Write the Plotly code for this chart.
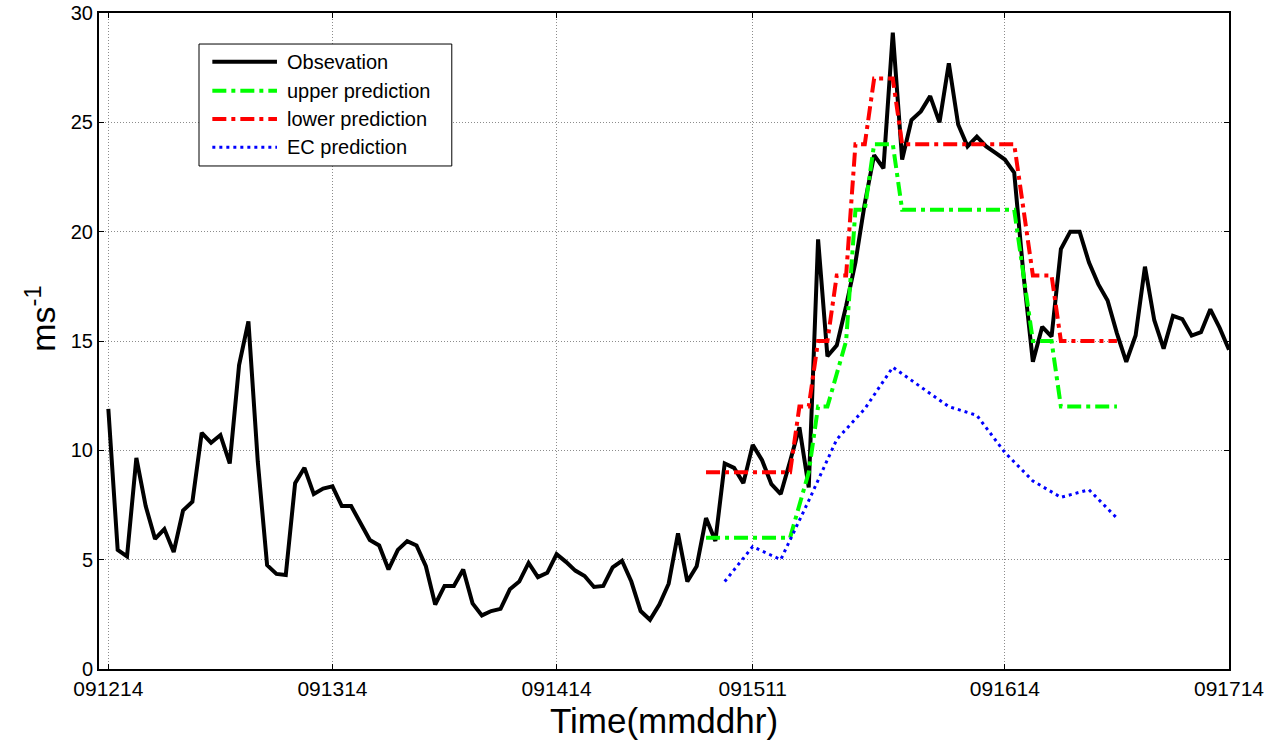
import plotly.graph_objects as go

# Hours since 12 Sep 14h (0 = 091214 ... 120 = 091714)
obs_hours = list(range(0, 121))
observation = [
    11.9, 5.45, 5.15, 9.65, 7.45, 5.95, 6.4, 5.35, 7.25, 7.65,
    10.8, 10.35, 10.7, 9.4, 13.9, 15.9, 9.5, 4.75, 4.35, 4.3,
    8.5, 9.2, 8.0, 8.25, 8.35, 7.45, 7.45, 6.65, 5.9, 5.65,
    4.55, 5.45, 5.85, 5.65, 4.7, 2.95, 3.8, 3.8, 4.55, 3.0,
    2.45, 2.65, 2.75, 3.65, 4.0, 4.85, 4.2, 4.4, 5.25, 4.9,
    4.5, 4.25, 3.75, 3.8, 4.65, 4.95, 4.0, 2.65, 2.25, 2.95,
    3.9, 6.2, 4.0, 4.7, 6.9, 5.85, 9.4, 9.2, 8.5, 10.25,
    9.55, 8.45, 8.0, 9.5, 11.05, 8.3, 19.65, 14.3, 14.8, 16.6,
    18.6, 21.3, 23.5, 22.9, 29.1, 23.3, 25.1, 25.5, 26.2, 25.0,
    27.7, 24.9, 23.9, 24.35, 23.9, 23.6, 23.3, 22.7, 18.0, 14.05,
    15.65, 15.2, 19.2, 20.0, 20.0, 18.6, 17.6, 16.85, 15.35, 14.05,
    15.25, 18.4, 15.95, 14.65, 16.15, 16.0, 15.25, 15.4, 16.45, 15.6,
    14.6,
]

pred_hours = list(range(64, 109))
upper_prediction = (
    [6] * 10 + [7.5, 9, 12, 12, 13.5, 15, 21, 21, 24, 24, 24]
    + [21] * 13 + [18] + [15] * 3 + [12] * 7
)
lower_prediction = (
    [9] * 10 + [12, 12, 15, 15, 18, 18, 24, 24, 27, 27, 27]
    + [24] * 13 + [21] + [18] * 3 + [15] * 7
)

ec_hours = list(range(66, 109, 3))
ec_prediction = [4.0, 5.6, 5.0, 7.7, 10.5, 11.9, 13.8, 12.9, 12.0, 11.6,
                 9.9, 8.6, 7.85, 8.2, 6.9]

tick_hours = [0, 24, 48, 69, 96, 120]
tick_labels = ["091214", "091314", "091414", "091511", "091614", "091714"]

series_names = ["Obsevation", "upper prediction", "lower prediction", "EC prediction"]

FONT = "Liberation Sans, Arial, sans-serif"
DASHDOT = "14px,5px,4px,5px"
DOTTED = "3px,4px"

styles = [
    dict(color="black", width=4),
    dict(color="#00ff00", width=4, dash=DASHDOT),
    dict(color="#ff0000", width=4, dash=DASHDOT),
    dict(color="#0000ff", width=3, dash=DOTTED),
]

series = [
    (obs_hours, observation),
    (pred_hours, upper_prediction),
    (pred_hours, lower_prediction),
    (ec_hours, ec_prediction),
]

fig = go.Figure()
for (xs, ys), name, st in zip(series, series_names, styles):
    fig.add_trace(go.Scatter(x=xs, y=ys, mode="lines", name=name,
                             line=st, showlegend=False))

axis_common = dict(
    showline=True, linecolor="black", linewidth=2, mirror="ticks",
    ticks="inside", ticklen=5, tickcolor="black", tickwidth=1,
    showgrid=True, gridcolor="#8c8c8c", griddash="1px,2px", gridwidth=1,
    zeroline=False, automargin=False,
)

fig.update_xaxes(
    range=[-1, 120], tickvals=tick_hours, ticktext=tick_labels,
    tickfont=dict(family=FONT, size=21, color="black"),
    title=dict(text="Time(mmddhr)", font=dict(family=FONT, size=35, color="black")),
    **axis_common,
)
fig.update_yaxes(
    range=[0, 30], tickvals=[0, 5, 10, 15, 20, 25, 30],
    tickfont=dict(family=FONT, size=20, color="black"),
    **axis_common,
)

# Legend box drawn in the upper-left corner of the axes
box_x0, box_x1, box_y0, box_y1 = 0.0885, 0.3122, 0.7668, 0.9527
line_x0, line_x1, text_x = 0.1003, 0.1575, 0.1650
row_y = [0.9258, 0.8816, 0.8384, 0.7953]

shapes = [dict(type="rect", xref="paper", yref="paper",
               x0=box_x0, x1=box_x1, y0=box_y0, y1=box_y1,
               line=dict(color="black", width=1), fillcolor="white",
               layer="above")]
annotations = []
for name, st, ry in zip(series_names, styles, row_y):
    shapes.append(dict(type="line", xref="paper", yref="paper",
                       x0=line_x0, x1=line_x1, y0=ry, y1=ry,
                       line=st, layer="above"))
    annotations.append(dict(xref="paper", yref="paper", x=text_x, y=ry,
                            xanchor="left", yanchor="middle", showarrow=False,
                            text=name,
                            font=dict(family=FONT, size=20, color="black")))

# Y-axis unit label
annotations.append(dict(xref="paper", yref="paper", x=-0.0525, y=0.535,
                        xanchor="center", yanchor="middle", showarrow=False,
                        textangle=-90, text="ms<sup>-1</sup>",
                        font=dict(family=FONT, size=34, color="black")))

fig.update_layout(
    width=1283, height=740,
    margin=dict(l=99, r=54, t=13, b=71),
    paper_bgcolor="white", plot_bgcolor="white",
    showlegend=False,
    shapes=shapes, annotations=annotations,
)

fig.write_html("out.html")
